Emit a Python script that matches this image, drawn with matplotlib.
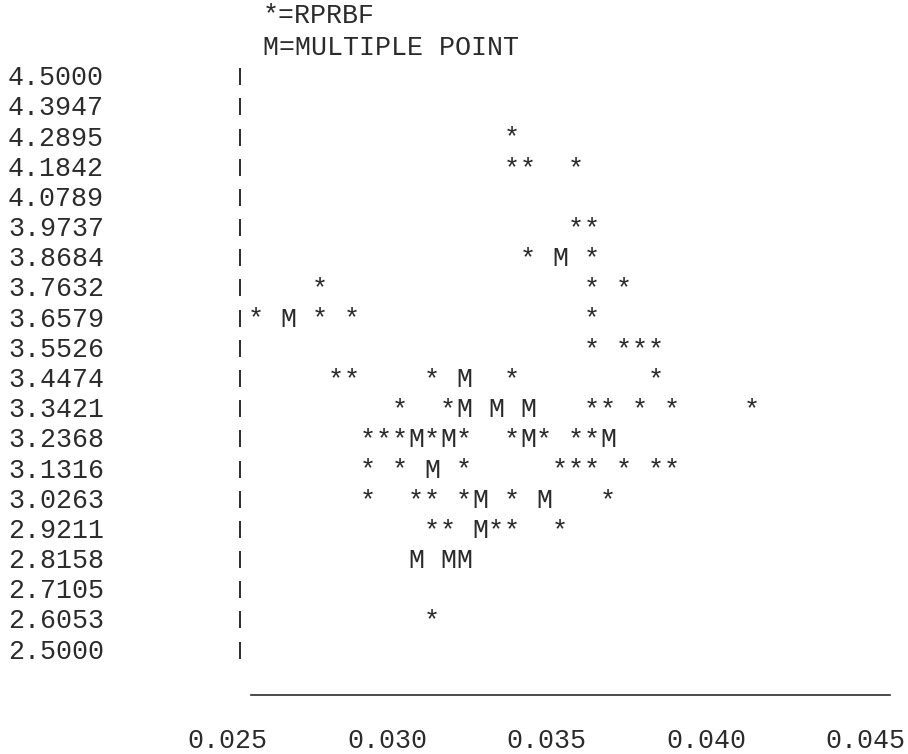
import matplotlib
matplotlib.use("Agg")
import matplotlib.pyplot as plt

# row levels printed down the left side
y_levels = [4.5000, 4.3947, 4.2895, 4.1842, 4.0789, 3.9737, 3.8684, 3.7632,
            3.6579, 3.5526, 3.4474, 3.3421, 3.2368, 3.1316, 3.0263, 2.9211,
            2.8158, 2.7105, 2.6053, 2.5000]
x_ticks = [0.025, 0.030, 0.035, 0.040, 0.045]

# "*" = RPRBF, listed row by row
star_x = [0.03392,
          0.03392, 0.03442, 0.03593,
          0.03593, 0.03643,
          0.03442, 0.03643,
          0.02790, 0.03643, 0.03743,
          0.02589, 0.02790, 0.02890, 0.03643,
          0.03643, 0.03743, 0.03793, 0.03843,
          0.02840, 0.02890, 0.03141, 0.03392, 0.03843,
          0.03041, 0.03191, 0.03643, 0.03693, 0.03793, 0.03894, 0.04144,
          0.02940, 0.02991, 0.03041, 0.03141, 0.03241, 0.03392, 0.03492, 0.03593, 0.03643,
          0.02940, 0.03041, 0.03241, 0.03542, 0.03593, 0.03643, 0.03743, 0.03843, 0.03894,
          0.02940, 0.03091, 0.03141, 0.03241, 0.03392, 0.03693,
          0.03141, 0.03191, 0.03342, 0.03392, 0.03542,
          0.03141]
star_y = [4.2895,
          4.1842, 4.1842, 4.1842,
          3.9737, 3.9737,
          3.8684, 3.8684,
          3.7632, 3.7632, 3.7632,
          3.6579, 3.6579, 3.6579, 3.6579,
          3.5526, 3.5526, 3.5526, 3.5526,
          3.4474, 3.4474, 3.4474, 3.4474, 3.4474,
          3.3421, 3.3421, 3.3421, 3.3421, 3.3421, 3.3421, 3.3421,
          3.2368, 3.2368, 3.2368, 3.2368, 3.2368, 3.2368, 3.2368, 3.2368, 3.2368,
          3.1316, 3.1316, 3.1316, 3.1316, 3.1316, 3.1316, 3.1316, 3.1316, 3.1316,
          3.0263, 3.0263, 3.0263, 3.0263, 3.0263, 3.0263,
          2.9211, 2.9211, 2.9211, 2.9211, 2.9211,
          2.6053]

# "M" = multiple point
multi_x = [0.03542,
           0.02690,
           0.03241,
           0.03241, 0.03342, 0.03442,
           0.03091, 0.03191, 0.03442, 0.03693,
           0.03141,
           0.03292, 0.03492,
           0.03292,
           0.03091, 0.03191, 0.03241]
multi_y = [3.8684,
           3.6579,
           3.4474,
           3.3421, 3.3421, 3.3421,
           3.2368, 3.2368, 3.2368, 3.2368,
           3.1316,
           3.0263, 3.0263,
           2.9211,
           2.8158, 2.8158, 2.8158]

W, H, DPI = 908, 754, 100
X_PER_PX = 0.005 / 159.5
Y_PER_PX = (2.0 / 19) / 30.18
XMIN = 0.025 - 227.5 * X_PER_PX
YTOP = 4.5 + 85.2 * Y_PER_PX
CELL = 16  # character pitch in pixels
INK = "#2b2b2b"
FS = CELL / 0.6 * 72 / DPI


def px_x(p):
    return XMIN + p * X_PER_PX


def px_y(p):
    return YTOP - p * Y_PER_PX


plt.rcParams["font.family"] = ["Liberation Mono", "DejaVu Sans Mono"]

fig = plt.figure(figsize=(W / DPI, H / DPI), dpi=DPI)
ax = fig.add_axes([0, 0, 1, 1])
ax.set_xlim(px_x(0), px_x(W))
ax.set_ylim(px_y(H), px_y(0))
ax.axis("off")

txt = dict(fontsize=FS, color=INK, va="baseline")

# legend lines at the top
ax.text(px_x(263), px_y(23.5), "*=RPRBF", ha="left", **txt)
ax.text(px_x(263), px_y(55), "M=MULTIPLE POINT", ha="left", **txt)

# row labels and the short bars of the left frame
frame_x = px_x(256 - CELL)
half_bar = 8.5 * Y_PER_PX
lift = 8.5 * Y_PER_PX  # baseline sits below the row's middle
for v in y_levels:
    ax.text(px_x(8), v, f"{v:.4f}", ha="left", **txt)
    ax.vlines(frame_x, v + lift - half_bar, v + lift + half_bar,
              color=INK, lw=1.4)

# the points, printed as characters
for x, y in zip(star_x, star_y):
    ax.text(x, y, "*", ha="center", **txt)
for x, y in zip(multi_x, multi_y):
    ax.text(x, y, "M", ha="center", **txt)

# horizontal axis line and its labels
ax.plot([px_x(251), px_x(890)], [px_y(695), px_y(695)], color=INK, lw=1.2)
for t in x_ticks:
    ax.text(t, px_y(748), f"{t:.3f}", ha="center", **txt)

fig.savefig("out.png", dpi=DPI, facecolor="white")
plt.close(fig)
